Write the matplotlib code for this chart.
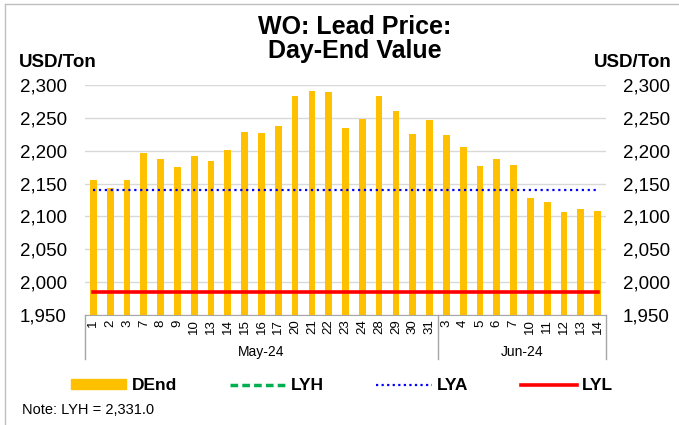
import matplotlib
matplotlib.use('Agg')
import matplotlib.pyplot as plt
from matplotlib.patches import Patch
from matplotlib.lines import Line2D

plt.rcParams['font.family'] = ['Liberation Sans', 'DejaVu Sans']

# data
days = ['1', '2', '3', '7', '8', '9', '10', '13', '14', '15', '16', '17', '20', '21', '22', '23', '24',
        '28', '29', '30', '31',
        '3', '4', '5', '6', '7', '10', '11', '12', '13', '14']
months = ['May-24', 'Jun-24']
month_counts = [21, 10]
dend = [2155, 2143, 2156, 2197, 2187, 2175, 2192, 2184, 2201, 2228, 2227, 2237, 2284, 2291, 2290, 2234,
        2248, 2283, 2260, 2225, 2246,
        2224, 2205, 2176, 2188, 2179, 2128, 2122, 2107, 2111, 2109]
lyh = 2331.0
lya = 2140.0
lyl = 1985.0
yticks = [1950, 2000, 2050, 2100, 2150, 2200, 2250, 2300]

W, H = 679, 425
fig = plt.figure(figsize=(W / 100, H / 100), dpi=100)

# plot area in pixels: left 85, right 606, top 85, bottom 315
ax = fig.add_axes([85 / W, 1 - 315 / H, (606 - 85) / W, (315 - 85) / H])
x = list(range(len(days)))
n = len(days)

ax.bar(x, dend, width=0.4, color='#FFC000', zorder=2)
ax.plot(x, [lyh] * n, '--', color='#00B050', lw=2, zorder=3)
ax.plot(x, [lya] * n, ':', color='#0000FF', lw=1.6, zorder=3)
ax.plot(x, [lyl] * n, '-', color='#FF0000', lw=2.6, zorder=3)

ax.set_xlim(-0.5, n - 0.5)
ax.set_ylim(yticks[0], yticks[-1])
ax.set_yticks(yticks)
ax.set_yticklabels([f'{v:,}' for v in yticks])
ax.yaxis.grid(True, color='#D9D9D9', lw=1)
ax.set_axisbelow(True)
for s in ['top', 'left', 'right']:
    ax.spines[s].set_visible(False)
ax.spines['bottom'].set_color('#A6A6A6')
ax.tick_params(axis='y', length=0, pad=13, labelsize=13.5)

ax.set_xticks(x)
ax.set_xticklabels(days, rotation=90, fontsize=9.5)
ax.tick_params(axis='x', length=0, pad=3)

# right axis
ax2 = ax.twinx()
ax2.set_ylim(yticks[0], yticks[-1])
ax2.set_yticks(yticks)
ax2.set_yticklabels([f'{v:,}' for v in yticks])
for s in ax2.spines.values():
    s.set_visible(False)
ax2.tick_params(axis='y', length=0, pad=12, labelsize=13.5)

# month groups under the days
trans = ax.get_xaxis_transform()
depth = (359 - 315) / (315 - 85)
start = -0.5
ax.plot([start, start], [0, -depth], transform=trans, clip_on=False, color='#A6A6A6', lw=1)
for m, c in zip(months, month_counts):
    end = start + c
    ax.plot([end, end], [0, -depth], transform=trans, clip_on=False, color='#A6A6A6', lw=1)
    ax.text((start + end) / 2, -(352 - 315) / (315 - 85), m, transform=trans,
            ha='center', va='center', fontsize=10)
    start = end

# titles
fig.text(355 / W, 1 - 34 / H, 'WO: Lead Price:', ha='center', va='baseline', fontsize=18, weight='bold')
fig.text(355 / W, 1 - 58 / H, 'Day-End Value', ha='center', va='baseline', fontsize=18, weight='bold')
fig.text(19 / W, 1 - 67 / H, 'USD/Ton', ha='left', va='baseline', fontsize=13.5, weight='bold')
fig.text(672 / W, 1 - 67 / H, 'USD/Ton', ha='right', va='baseline', fontsize=13.5, weight='bold')

# legend
handles = [Patch(color='#FFC000', label='DEnd'),
           Line2D([], [], ls=(0, (2.2, 1.2)), color='#00B050', lw=2.5, label='LYH'),
           Line2D([], [], ls=(0, (1, 1.5)), color='#0000FF', lw=1.6, label='LYA'),
           Line2D([], [], ls='-', color='#FF0000', lw=2.6, label='LYL')]
fig.legend(handles=handles, ncol=4, loc='center', bbox_to_anchor=(342 / W, 1 - 386 / H),
           frameon=False, prop={'weight': 'bold', 'size': 12.5}, handlelength=3.2,
           handleheight=0.5, handletextpad=0.3, columnspacing=3.05)

fig.text(22 / W, 1 - 410 / H, 'Note: LYH = 2,331.0', ha='left', va='center', fontsize=10.5)

# chart border (left and top edges visible)
fig.add_artist(Line2D([5 / W, 5 / W], [0, 1 - 4 / H], color='#BFBFBF', lw=1))
fig.add_artist(Line2D([5 / W, 1], [1 - 4 / H, 1 - 4 / H], color='#BFBFBF', lw=1))

fig.savefig('out.png', dpi=100)
